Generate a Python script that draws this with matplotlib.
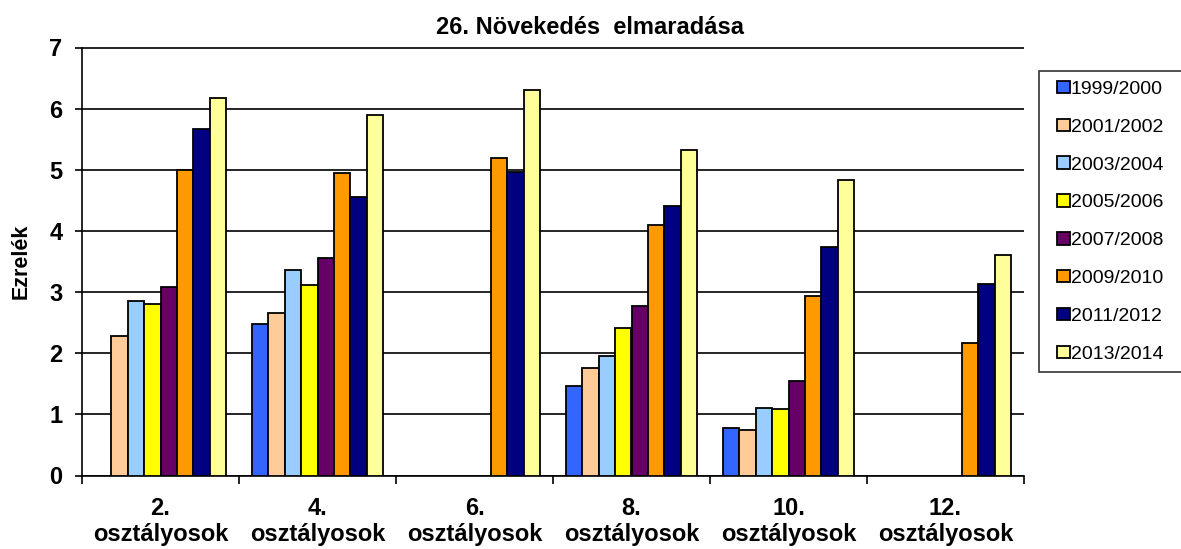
import numpy as np
import matplotlib
matplotlib.use("Agg")
import matplotlib.pyplot as plt
from matplotlib.patches import Rectangle
from matplotlib.legend_handler import HandlerPatch

plt.rcParams['font.family'] = ['Liberation Sans', 'DejaVu Sans']

categories = ["2.\nosztályosok", "4.\nosztályosok", "6.\nosztályosok",
              "8.\nosztályosok", "10.\nosztályosok", "12.\nosztályosok"]
series_names = ["1999/2000", "2001/2002", "2003/2004", "2005/2006",
                "2007/2008", "2009/2010", "2011/2012", "2013/2014"]
nan = np.nan
v1999 = [nan, 2.47, nan, 1.46, 0.78, nan]
v2001 = [2.28, 2.65, nan, 1.76, 0.75, nan]
v2003 = [2.86, 3.36, nan, 1.95, 1.11, nan]
v2005 = [2.80, 3.11, nan, 2.41, 1.09, nan]
v2007 = [3.08, 3.55, nan, 2.78, 1.55, nan]
v2009 = [5.00, 4.95, 5.20, 4.09, 2.93, 2.16]
v2011 = [5.67, 4.56, 4.96, 4.41, 3.73, 3.14]
v2013 = [6.18, 5.90, 6.31, 5.32, 4.83, 3.61]
values = [v1999, v2001, v2003, v2005, v2007, v2009, v2011, v2013]
colors = ["#3366FF", "#FFCC99", "#99CCFF", "#FFFF00",
          "#660066", "#FF9900", "#000080", "#FFFF99"]

W, H = 1181, 549
fig = plt.figure(figsize=(W / 100, H / 100), dpi=100)
ax = fig.add_axes([82 / W, 1 - 475.5 / H, (1024 - 82) / W, (475.5 - 47.5) / H])

x = np.arange(len(categories))
bw = 0.105
n = len(values)
handles = []
for j, (vals, c, name) in enumerate(zip(values, colors, series_names)):
    b = ax.bar(x + (j - (n - 1) / 2) * bw, vals, width=bw, color=c,
               edgecolor="black", linewidth=1.3, label=name, zorder=3)
    handles.append(b)

ax.set_xlim(-0.5, len(categories) - 0.5)
ax.set_ylim(0, 7)
ax.set_yticks(range(0, 8))
ax.yaxis.grid(True, color="black", linewidth=1.2, zorder=0)
ax.set_axisbelow(True)
for s in ["top", "right"]:
    ax.spines[s].set_visible(False)
ax.spines["left"].set_linewidth(1.2)
ax.spines["bottom"].set_linewidth(1.2)

ax.set_xticks(x)
ax.set_xticklabels(categories, fontsize=17, fontweight="bold", linespacing=1.17)
ax.set_xticks(np.arange(-0.5, len(categories)), minor=True)
ax.tick_params(axis="x", which="major", length=0, pad=15.5)
ax.tick_params(axis="x", which="minor", length=6, width=1.2, direction="out")
ax.tick_params(axis="y", which="major", length=5, width=1.2, direction="out",
               labelsize=17, pad=9)
for lab in ax.get_yticklabels():
    lab.set_fontweight("bold")

ax.set_ylabel("Ezrelék", fontsize=15.5, fontweight="bold", labelpad=13)

fig.text(0.5, 1 - 34 / H, "26. Növekedés  elmaradása", ha="center",
         va="baseline", fontsize=17, fontweight="bold")


def square_patch(legend, orig_handle, xdescent, ydescent, width, height, fontsize):
    s = 12.5 * 72 / 100
    return Rectangle((-xdescent + width - s, -ydescent + (height - s) / 2), s, s)


leg = fig.legend(handles=[h.patches[0] for h in handles], labels=series_names,
                 loc="upper left",
                 bbox_to_anchor=(1039 / W, 1 - 70.5 / H, 200 / W, 0.0),
                 mode="expand", fontsize=14, frameon=True, fancybox=False,
                 handlelength=1.08, handleheight=0.7, handletextpad=0.05,
                 labelspacing=1.04, borderpad=0.5, borderaxespad=0.0,
                 handler_map={Rectangle: HandlerPatch(patch_func=square_patch)})
leg.get_frame().set_edgecolor("black")
leg.get_frame().set_linewidth(1.2)

fig.savefig("out.png", dpi=100)
